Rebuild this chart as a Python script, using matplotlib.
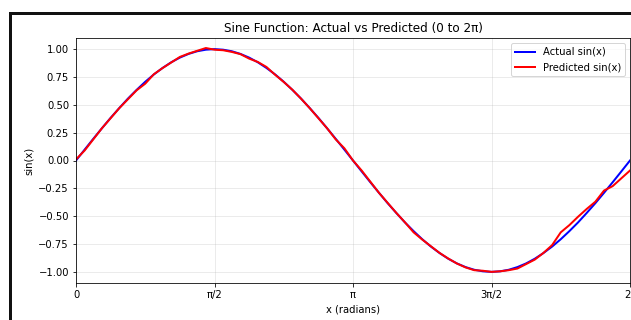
import numpy as np
import matplotlib
matplotlib.use("Agg")
import matplotlib.pyplot as plt
from matplotlib.patches import Rectangle

# x sample positions: 65 points from 0 to 2*pi
n_points = 65
x = np.linspace(0, 2 * np.pi, n_points)

actual = [0.000, 0.098, 0.195, 0.290, 0.383, 0.471, 0.556, 0.634, 0.707, 0.773,
          0.831, 0.882, 0.924, 0.957, 0.981, 0.995, 1.000, 0.995, 0.981, 0.957,
          0.924, 0.882, 0.831, 0.773, 0.707, 0.634, 0.556, 0.471, 0.383, 0.290,
          0.195, 0.098, 0.000, -0.098, -0.195, -0.290, -0.383, -0.471, -0.556, -0.634,
          -0.707, -0.773, -0.831, -0.882, -0.924, -0.957, -0.981, -0.995, -1.000, -0.995,
          -0.981, -0.957, -0.924, -0.882, -0.831, -0.773, -0.707, -0.634, -0.556, -0.471,
          -0.383, -0.290, -0.195, -0.098, 0.000]

predicted = [0.010, 0.090, 0.190, 0.290, 0.380, 0.470, 0.550, 0.630, 0.690, 0.775,
             0.830, 0.880, 0.930, 0.960, 0.985, 1.010, 0.995, 0.990, 0.975, 0.955,
             0.915, 0.885, 0.840, 0.770, 0.705, 0.635, 0.555, 0.470, 0.380, 0.290,
             0.190, 0.110, 0.000, -0.090, -0.190, -0.290, -0.380, -0.470, -0.555, -0.645,
             -0.710, -0.770, -0.830, -0.880, -0.925, -0.960, -0.985, -0.990, -1.000, -0.995,
             -0.985, -0.970, -0.930, -0.890, -0.830, -0.760, -0.645, -0.580, -0.505, -0.435,
             -0.370, -0.270, -0.230, -0.160, -0.090]

xtick_vals = [0, np.pi / 2, np.pi, 3 * np.pi / 2, 2 * np.pi]
xtick_labels = ['0', 'π/2', 'π', '3π/2', '2π']

W, H, DPI = 631, 320, 72
fig = plt.figure(figsize=(W / DPI, H / DPI), dpi=DPI)

# black frame (cropped figure border)
frame = Rectangle((10 / W, -0.2), 1.3, 1.2 - 12.5 / H, transform=fig.transFigure,
                  fill=False, edgecolor='#111111', linewidth=3, clip_on=False)
fig.patches.append(frame)

ax = fig.add_axes([76 / W, (H - 283) / H, 554 / W, 245 / H])
ax.plot(x, actual, color='blue', linewidth=2, label='Actual sin(x)')
ax.plot(x, predicted, color='red', linewidth=2, label='Predicted sin(x)')
ax.set_xlim(0, 2 * np.pi)
ax.set_ylim(-1.1, 1.1)
ax.set_xticks(xtick_vals)
ax.set_xticklabels(xtick_labels)
ax.set_yticks([-1.0, -0.75, -0.5, -0.25, 0.0, 0.25, 0.5, 0.75, 1.0])
ax.grid(True, alpha=0.3)
ax.set_title('Sine Function: Actual vs Predicted (0 to 2π)', fontsize=12)
ax.set_xlabel('x (radians)')
ax.set_ylabel('sin(x)')
ax.legend(loc='upper right')

fig.savefig('out.png', dpi=DPI)
